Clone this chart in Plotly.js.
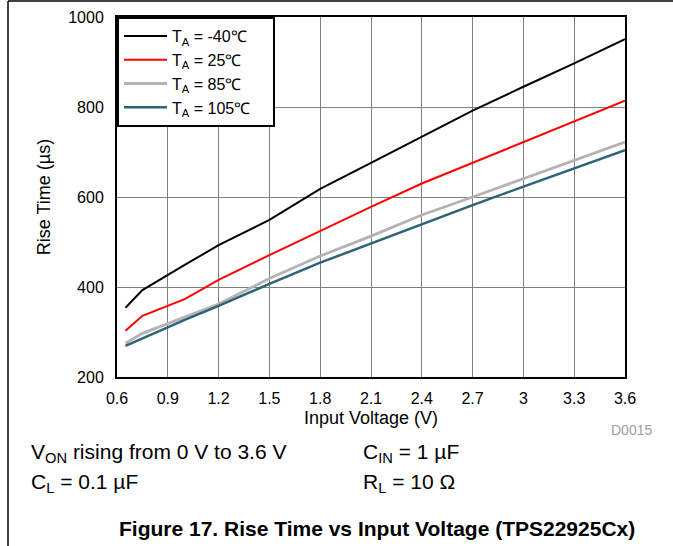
<!DOCTYPE html>
<html>
<head>
<meta charset="utf-8">
<script src="https://cdn.plot.ly/plotly-3.0.1.min.js"></script>
<style>html,body{margin:0;padding:0;background:#fff;}#chart{width:673px;height:546px;}</style>
</head>
<body>
<div id="chart"></div>
<script>
var voltage = [0.65, 0.75, 1.0, 1.2, 1.5, 1.8, 2.1, 2.4, 2.7, 3.0, 3.3, 3.6];
var riseM40 = [354, 393, 449, 493, 549, 618, 676, 734, 792, 845, 897, 951];
var rise25  = [303, 336, 373, 416, 471, 525, 578, 630, 676, 722, 769, 814];
var rise85  = [275, 297, 333, 362, 419, 469, 513, 560, 600, 641, 682, 722];
var rise105 = [269, 286, 327, 358, 407, 454, 497, 540, 582, 623, 664, 704];
var seriesNames = ['T<sub>A</sub> = -40\u2103', 'T<sub>A</sub> = 25\u2103', 'T<sub>A</sub> = 85\u2103', 'T<sub>A</sub> = 105\u2103'];
var xTickVals = [0.6, 0.9, 1.2, 1.5, 1.8, 2.1, 2.4, 2.7, 3.0, 3.3, 3.6];
var xTickText = ['0.6', '0.9', '1.2', '1.5', '1.8', '2.1', '2.4', '2.7', '3', '3.3', '3.6'];
var yTickVals = [200, 400, 600, 800, 1000];
var yTickText = ['200', '400', '600', '800', '1000'];

var FONT = 'Liberation Sans, Arial, sans-serif';
var L = 117, R = 625, T = 17, B = 377, W = 673, H = 546;
function px(x) { return (x - L) / (R - L); }
function py(y) { return (B - y) / (B - T); }

var colors = ['#000000', '#ff0000', '#b3b3b3', '#2d6377'];
var widths = [2, 2, 2.8, 2.5];
var ys = [riseM40, rise25, rise85, rise105];
var PAD = '\u00a0\u00a0\u00a0\u00a0';
var data = ys.map(function (y, i) {
  return { x: voltage, y: y, name: seriesNames[i] + (i === 3 ? PAD : ''), type: 'scatter', mode: 'lines',
           line: { color: colors[i], width: widths[i] } };
});

var layout = {
  width: W, height: H,
  margin: { l: L, r: W - R, t: T, b: H - B, pad: 0 },
  paper_bgcolor: '#fff', plot_bgcolor: '#fff',
  font: { family: FONT, size: 16, color: '#000' },
  showlegend: true,
  legend: { x: 0, y: 1, xanchor: 'left', yanchor: 'top', bgcolor: '#fff', itemwidth: 43,
            bordercolor: '#000', borderwidth: 2, font: { family: FONT, size: 16, color: '#000' } },
  xaxis: { range: [0.6, 3.6], tickvals: xTickVals, ticktext: xTickText, showgrid: true,
           gridcolor: '#808080', gridwidth: 1, zeroline: false, showline: true, mirror: true,
           linecolor: '#000', linewidth: 2, ticks: '', ticklabelstandoff: 6,
           tickfont: { family: FONT, size: 16 },
           title: { text: 'Input Voltage (V)', font: { family: FONT, size: 18 }, standoff: 5 } },
  yaxis: { range: [200, 1000], tickvals: yTickVals, ticktext: yTickText, showgrid: true,
           gridcolor: '#808080', gridwidth: 1, zeroline: false, showline: true, mirror: true,
           linecolor: '#000', linewidth: 2, ticks: '', ticklabelstandoff: 8,
           tickfont: { family: FONT, size: 16 },
           title: { text: 'Rise Time (\u00b5s)', font: { family: FONT, size: 18 }, standoff: 13 } },
  shapes: [
    { type: 'line', xref: 'paper', yref: 'paper', x0: px(8), x1: px(8), y0: py(1), y1: py(546), line: { color: '#000', width: 1.5 } },
    { type: 'line', xref: 'paper', yref: 'paper', x0: px(8), x1: px(673), y0: py(1), y1: py(1), line: { color: '#000', width: 1.5 } }
  ],
  annotations: [
    { text: 'D0015', xref: 'paper', yref: 'paper', x: px(654), y: py(430), xanchor: 'right', yanchor: 'middle', showarrow: false, font: { family: FONT, size: 14, color: '#a0a0a0' } },
    { text: 'V<sub>ON</sub> rising from 0 V to 3.6 V', xref: 'paper', yref: 'paper', x: px(29), y: py(453), xanchor: 'left', yanchor: 'middle', showarrow: false, font: { family: FONT, size: 21 } },
    { text: 'C<sub>IN</sub> = 1 \u00b5F', xref: 'paper', yref: 'paper', x: px(361), y: py(453), xanchor: 'left', yanchor: 'middle', showarrow: false, font: { family: FONT, size: 21 } },
    { text: 'C<sub>L</sub> = 0.1 \u00b5F', xref: 'paper', yref: 'paper', x: px(29), y: py(483), xanchor: 'left', yanchor: 'middle', showarrow: false, font: { family: FONT, size: 21 } },
    { text: 'R<sub>L</sub> = 10 \u03a9', xref: 'paper', yref: 'paper', x: px(361), y: py(483), xanchor: 'left', yanchor: 'middle', showarrow: false, font: { family: FONT, size: 21 } },
    { text: '<b>Figure 17. Rise Time vs Input Voltage (TPS22925Cx)</b>', xref: 'paper', yref: 'paper', x: px(377), y: py(528), xanchor: 'center', yanchor: 'middle', showarrow: false, font: { family: FONT, size: 21 } }
  ]
};

Plotly.newPlot('chart', data, layout, { staticPlot: true, displayModeBar: false });
</script>
</body>
</html>
